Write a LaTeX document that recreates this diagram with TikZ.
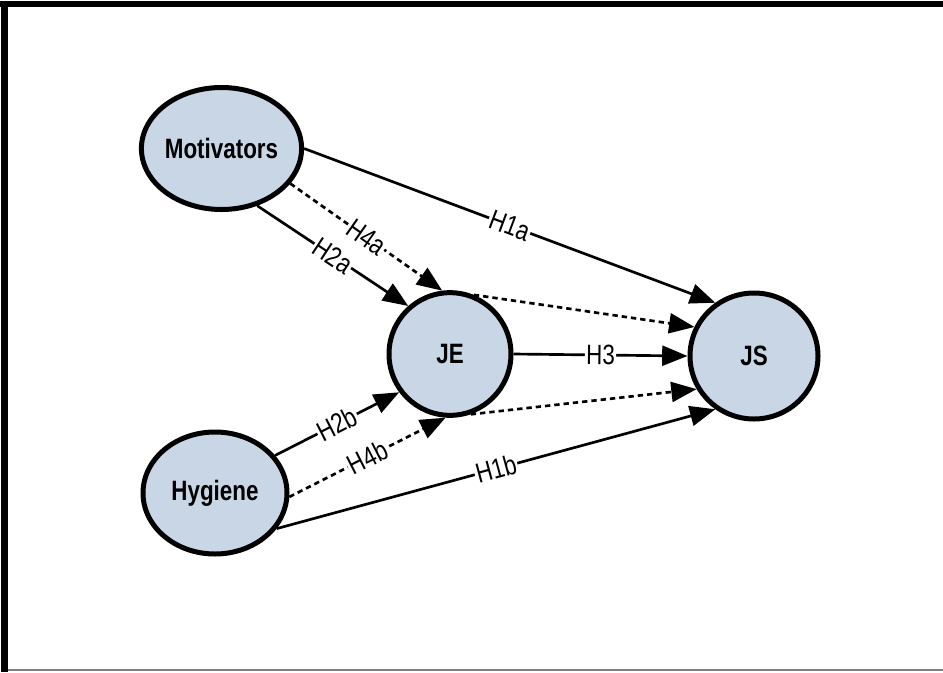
\documentclass[tikz,border=0pt]{standalone}
\usepackage{fontspec}
\setmainfont{Liberation Sans}[FakeStretch=0.8]
\usetikzlibrary{arrows.meta,shapes.geometric}
\definecolor{nodefill}{RGB}{200,214,230}
\begin{document}
\begin{tikzpicture}[x=0.75pt,y=-0.75pt,
  construct/.style={ellipse,draw=black,line width=3.75pt,fill=nodefill,inner sep=0pt,
    font=\fontsize{21}{25}\selectfont\bfseries},
  link/.style={line width=2pt,-{Triangle[length=19pt,width=15pt]}},
  dlink/.style={link,dash pattern=on 4pt off 3pt},
  lab/.style={fill=white,inner sep=1pt,sloped,midway,font=\fontsize{21}{25}\selectfont}]
\useasboundingbox (0,0) rectangle (943,672);
% frame
\fill (0,1) rectangle (943,7);
\fill (1,1) rectangle (8,672);
\draw[gray,line width=1.2pt] (8,670) -- (943,670);
% nodes
\node[construct,minimum width=106.5pt,minimum height=91.5pt] (M) at (221.5,148.5) {Motivators};
\node[construct,minimum width=108pt,minimum height=91.5pt] (H) at (215,493) {Hygiene};
\node[construct,minimum width=91.5pt,minimum height=92pt] (JE) at (450,354) {JE};
\node[construct,minimum width=96pt,minimum height=94.5pt] (JS) at (754,356) {JS};
% edges
\draw[link] (M.0) -- node[lab] {H1a} (JS.126);
\draw[link] (M.-58.5) -- node[lab] {H2a} (JE.131.6);
\draw[dlink] (M.-27.8) -- node[lab] {H4a} (JE.97);
\draw[dlink] (JE.68) -- (JS.154);
\draw[link] (JE.0) -- node[lab] {H3} (JS.180);
\draw[dlink] (JE.-71) -- (JS.-150);
\draw[link] (H.32) -- node[lab] {H2b} (JE.-143);
\draw[dlink] (H.-3) -- node[lab] {H4b} (JE.-94);
\draw[link] (H.-30) -- node[lab] {H1b} (JS.-126);
\end{tikzpicture}
\end{document}
